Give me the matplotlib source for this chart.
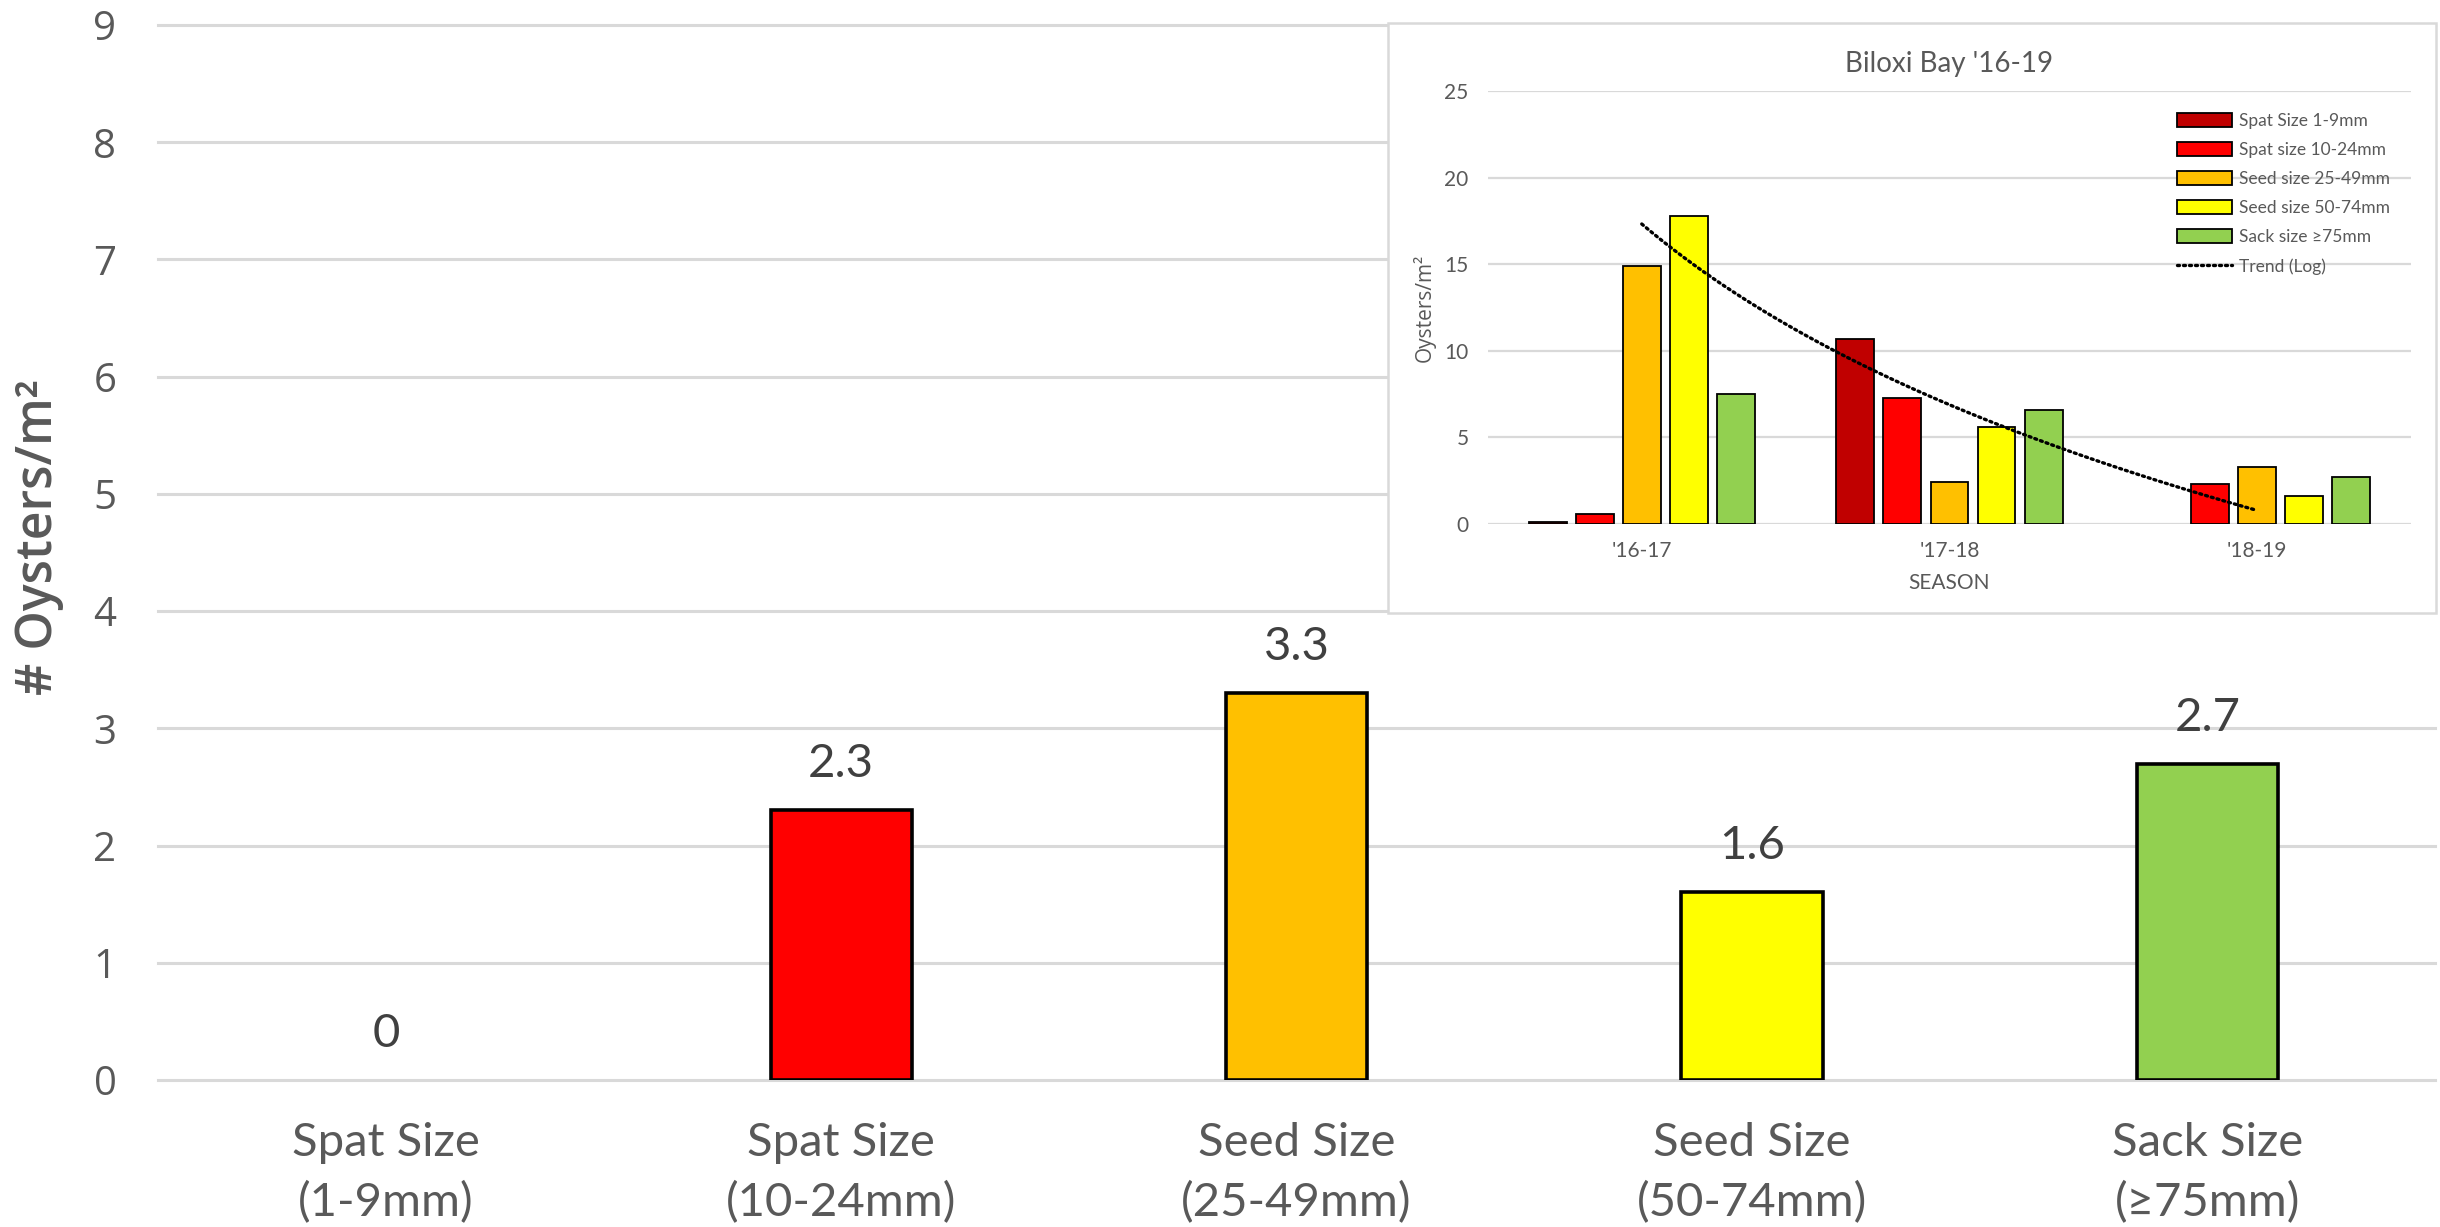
import numpy as np
import matplotlib
matplotlib.use("Agg")
import matplotlib.pyplot as plt
import matplotlib.patches as patches

# main chart: Biloxi Bay '18-19
categories = ["Spat Size\n(1-9mm)", "Spat Size\n(10-24mm)", "Seed Size\n(25-49mm)",
              "Seed Size\n(50-74mm)", "Sack Size\n(≥75mm)"]
values_1819 = [0, 2.3, 3.3, 1.6, 2.7]
colors = ["#C00000", "#FF0000", "#FFC000", "#FFFF00", "#92D050"]
y_ticks = list(range(0, 10))

# inset: all seasons
seasons = ["'16-17", "'17-18", "'18-19"]
series_names = ["Spat Size 1-9mm", "Spat size 10-24mm", "Seed size 25-49mm",
                "Seed size 50-74mm", "Sack size ≥75mm"]
spat_1_9 = [0.1, 10.7, 0]
spat_10_24 = [0.6, 7.3, 2.3]
seed_25_49 = [14.9, 2.4, 3.3]
seed_50_74 = [17.8, 5.6, 1.6]
sack_75 = [7.5, 6.6, 2.7]
inset_series = [spat_1_9, spat_10_24, seed_25_49, seed_50_74, sack_75]
inset_ticks = [0, 5, 10, 15, 20, 25]

narrow = ["Liberation Sans Narrow", "Lato", "DejaVu Sans"]
sans = ["Open Sans", "DejaVu Sans"]
gray = "#595959"
grid_gray = "#d9d9d9"

fig = plt.figure(figsize=(24.4, 12.27), dpi=100)

# ---- main axes
ax = fig.add_axes([0.0648, 0.1198, 0.9332, 0.8598])
x = np.arange(len(categories))
bars = ax.bar(x, values_1819, width=0.31, color=colors, edgecolor="black", linewidth=2.6, zorder=3)
for bar, v in zip(bars, values_1819):
    if v == 0:
        bar.set_visible(False)   # excel draws nothing for an empty bar
ax.bar_label(bars, labels=[f"{v:g}" for v in values_1819], padding=18,
             fontsize=34, color="#404040", family=narrow)
ax.set_xlim(-0.5, len(categories) - 0.5)
ax.set_ylim(0, 9)
ax.set_yticks(y_ticks)
ax.set_xticks(x)
ax.set_xticklabels(categories, fontsize=34, color=gray, family=narrow, linespacing=1.5)
for lbl in ax.get_yticklabels():
    lbl.set_fontsize(29)
    lbl.set_color(gray)
    lbl.set_family(sans)
ax.tick_params(axis="both", length=0)
ax.tick_params(axis="x", pad=30)
ax.tick_params(axis="y", pad=30)
for s in ax.spines.values():
    s.set_visible(False)
ax.yaxis.grid(True, color=grid_gray, linewidth=2.2)
for gl in ax.get_ygridlines():
    gl.set_clip_on(False)
ax.set_axisbelow(True)
ax.set_ylabel("# Oysters/m²", fontsize=36, color=gray, family=sans, weight="semibold")
ax.yaxis.set_label_coords(-0.0415, 0.515)

# ---- inset chart box
box = patches.Rectangle((0.5689, 0.5004), 0.4295, 0.4808, transform=fig.transFigure,
                        facecolor="white", edgecolor=grid_gray, linewidth=1.8, zorder=5)
fig.patches.append(box)

axi = fig.add_axes([0.6098, 0.5729, 0.3783, 0.3529], zorder=6)
axi.patch.set_alpha(0)
n = len(inset_series)
step = 0.153
bw = 0.123
xs = np.arange(len(seasons))
handles = []
for i, (vals, name, c) in enumerate(zip(inset_series, series_names, colors)):
    offs = (i - (n - 1) / 2) * step
    bc = axi.bar(xs + offs, vals, width=bw, color=c, edgecolor="black", linewidth=1.3,
                 label=name, zorder=3)
    for bar, v in zip(bc, vals):
        if v == 0:
            bar.set_visible(False)
    handles.append(bc)

# logarithmic trendline of seed size 50-74mm, as Excel computes it
season_num = np.arange(1, len(seasons) + 1)
b, a = np.polyfit(np.log(season_num), seed_50_74, 1)
tx = np.linspace(1, len(seasons), 60)
trend, = axi.plot(tx - 1, a + b * np.log(tx), color="black", linewidth=2.4,
                  linestyle=(0, (0.6, 1.2)), dash_capstyle="round", label="Trend (Log)", zorder=4)
handles.append(trend)

axi.set_xlim(-0.5, len(seasons) - 0.5)
axi.set_ylim(0, 25)
axi.set_yticks(inset_ticks)
axi.set_xticks(xs)
axi.set_xticklabels(seasons, fontsize=15, color=gray, family=narrow)
for lbl in axi.get_yticklabels():
    lbl.set_fontsize(15)
    lbl.set_color(gray)
    lbl.set_family(narrow)
axi.tick_params(axis="both", length=0)
axi.tick_params(axis="x", pad=12)
axi.tick_params(axis="y", pad=14)
for s in axi.spines.values():
    s.set_visible(False)
axi.yaxis.grid(True, color=grid_gray, linewidth=1.6)
axi.set_axisbelow(True)
axi.set_title("Biloxi Bay '16-19", fontsize=20, color=gray, family=narrow, pad=14)
axi.set_xlabel("SEASON", fontsize=15, color=gray, family=narrow, labelpad=9)
axi.set_ylabel("Oysters/m²", fontsize=15, color=gray, family=sans, labelpad=6)

leg = axi.legend(handles=handles, labels=series_names + ["Trend (Log)"],
                 loc="upper right", bbox_to_anchor=(0.985, 0.965), frameon=False,
                 fontsize=12.5, labelspacing=0.75, handlelength=3.2, handleheight=0.85,
                 handletextpad=0.4, borderaxespad=0)
for t in leg.get_texts():
    t.set_color(gray)
    t.set_family(narrow)

fig.savefig("out.png", dpi=100, facecolor="white")
